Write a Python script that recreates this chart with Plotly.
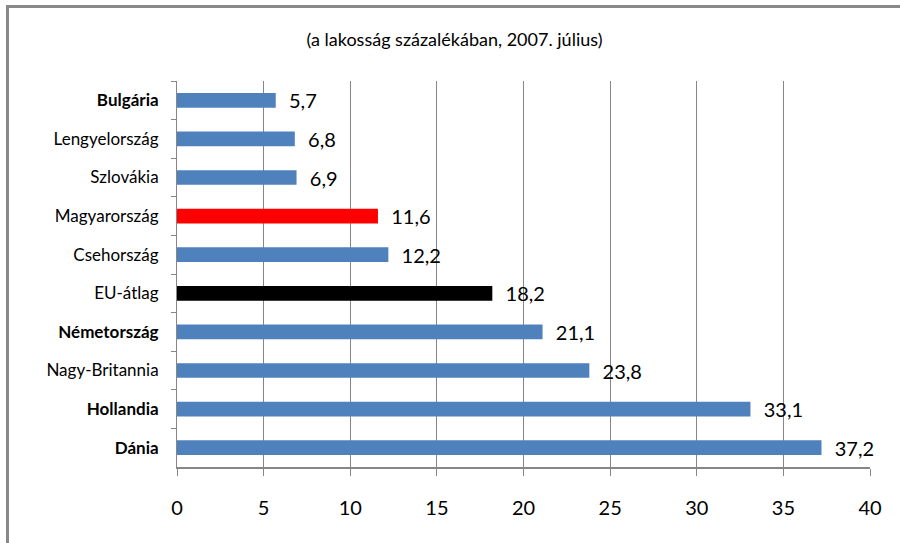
import plotly.graph_objects as go

categories = ["<b>Bulgária</b>", "Lengyelország", "Szlovákia", "Magyarország", "Csehország",
              "EU-átlag", "<b>Németország</b>", "Nagy-Britannia", "<b>Hollandia</b>", "<b>Dánia</b>"]
values = [5.7, 6.8, 6.9, 11.6, 12.2, 18.2, 21.1, 23.8, 33.1, 37.2]
value_labels = ["5,7", "6,8", "6,9", "11,6", "12,2", "18,2", "21,1", "23,8", "33,1", "37,2"]
bar_colors = ["#4F81BD", "#4F81BD", "#4F81BD", "#FF0000", "#4F81BD",
              "#000000", "#4F81BD", "#4F81BD", "#4F81BD", "#4F81BD"]
x_ticks = [0, 5, 10, 15, 20, 25, 30, 35, 40]
title_text = "(a lakosság százalékában, 2007. július)"

FONT = "Lato, 'Open Sans', sans-serif"
GRID = "#868686"

fig = go.Figure(go.Bar(
    y=categories, x=values, orientation="h",
    marker=dict(color=bar_colors, line=dict(width=0)),
    width=0.38,
    text=["  " + t for t in value_labels],
    textposition="outside",
    constraintext="none",
    cliponaxis=False,
    textfont=dict(family=FONT, size=20, color="#000000"),
    hoverinfo="skip",
))

L, R, T, B = 177, 30, 81, 76
W, H = 900, 543
pw, ph = W - L - R, H - T - B
def px(x): return (x - L) / pw
def py(y): return 1 - (y - T) / ph

fig.update_layout(
    width=W, height=H,
    margin=dict(l=L, r=R, t=T, b=B, autoexpand=False),
    paper_bgcolor="white", plot_bgcolor="white",
    showlegend=False,
    title=dict(text=title_text, x=0.505, xref="container", xanchor="center",
               y=1 - 40 / H, yref="container", yanchor="middle",
               font=dict(family=FONT, size=18, color="#000000")),
    xaxis=dict(range=[0, 40], tickvals=x_ticks, ticktext=[str(v) for v in x_ticks],
               showgrid=True, gridcolor=GRID, gridwidth=1,
               showline=True, linecolor=GRID, linewidth=2,
               ticks="outside", ticklen=7, tickcolor=GRID, tickwidth=1,
               ticklabelstandoff=15, zeroline=False, automargin=False,
               tickfont=dict(family=FONT, size=20, color="#000000")),
    yaxis=dict(autorange="reversed", showgrid=False,
               showline=True, linecolor=GRID, linewidth=1,
               ticks="outside", ticklen=5, tickcolor=GRID, tickson="boundaries",
               ticklabelstandoff=14, automargin=False,
               tickfont=dict(family=FONT, size=17, color="#000000")),
    shapes=[
        dict(type="rect", xref="paper", yref="paper", x0=px(6), x1=px(900), y0=py(8), y1=py(5),
             line=dict(width=0), fillcolor="#898989", layer="above"),
        dict(type="rect", xref="paper", yref="paper", x0=px(6), x1=px(9), y0=py(543), y1=py(5),
             line=dict(width=0), fillcolor="#898989", layer="above"),
    ],
)

fig.write_html("out.html", config={"displayModeBar": False},
               post_script="document.body.style.margin='0';document.body.style.overflow='hidden';")
